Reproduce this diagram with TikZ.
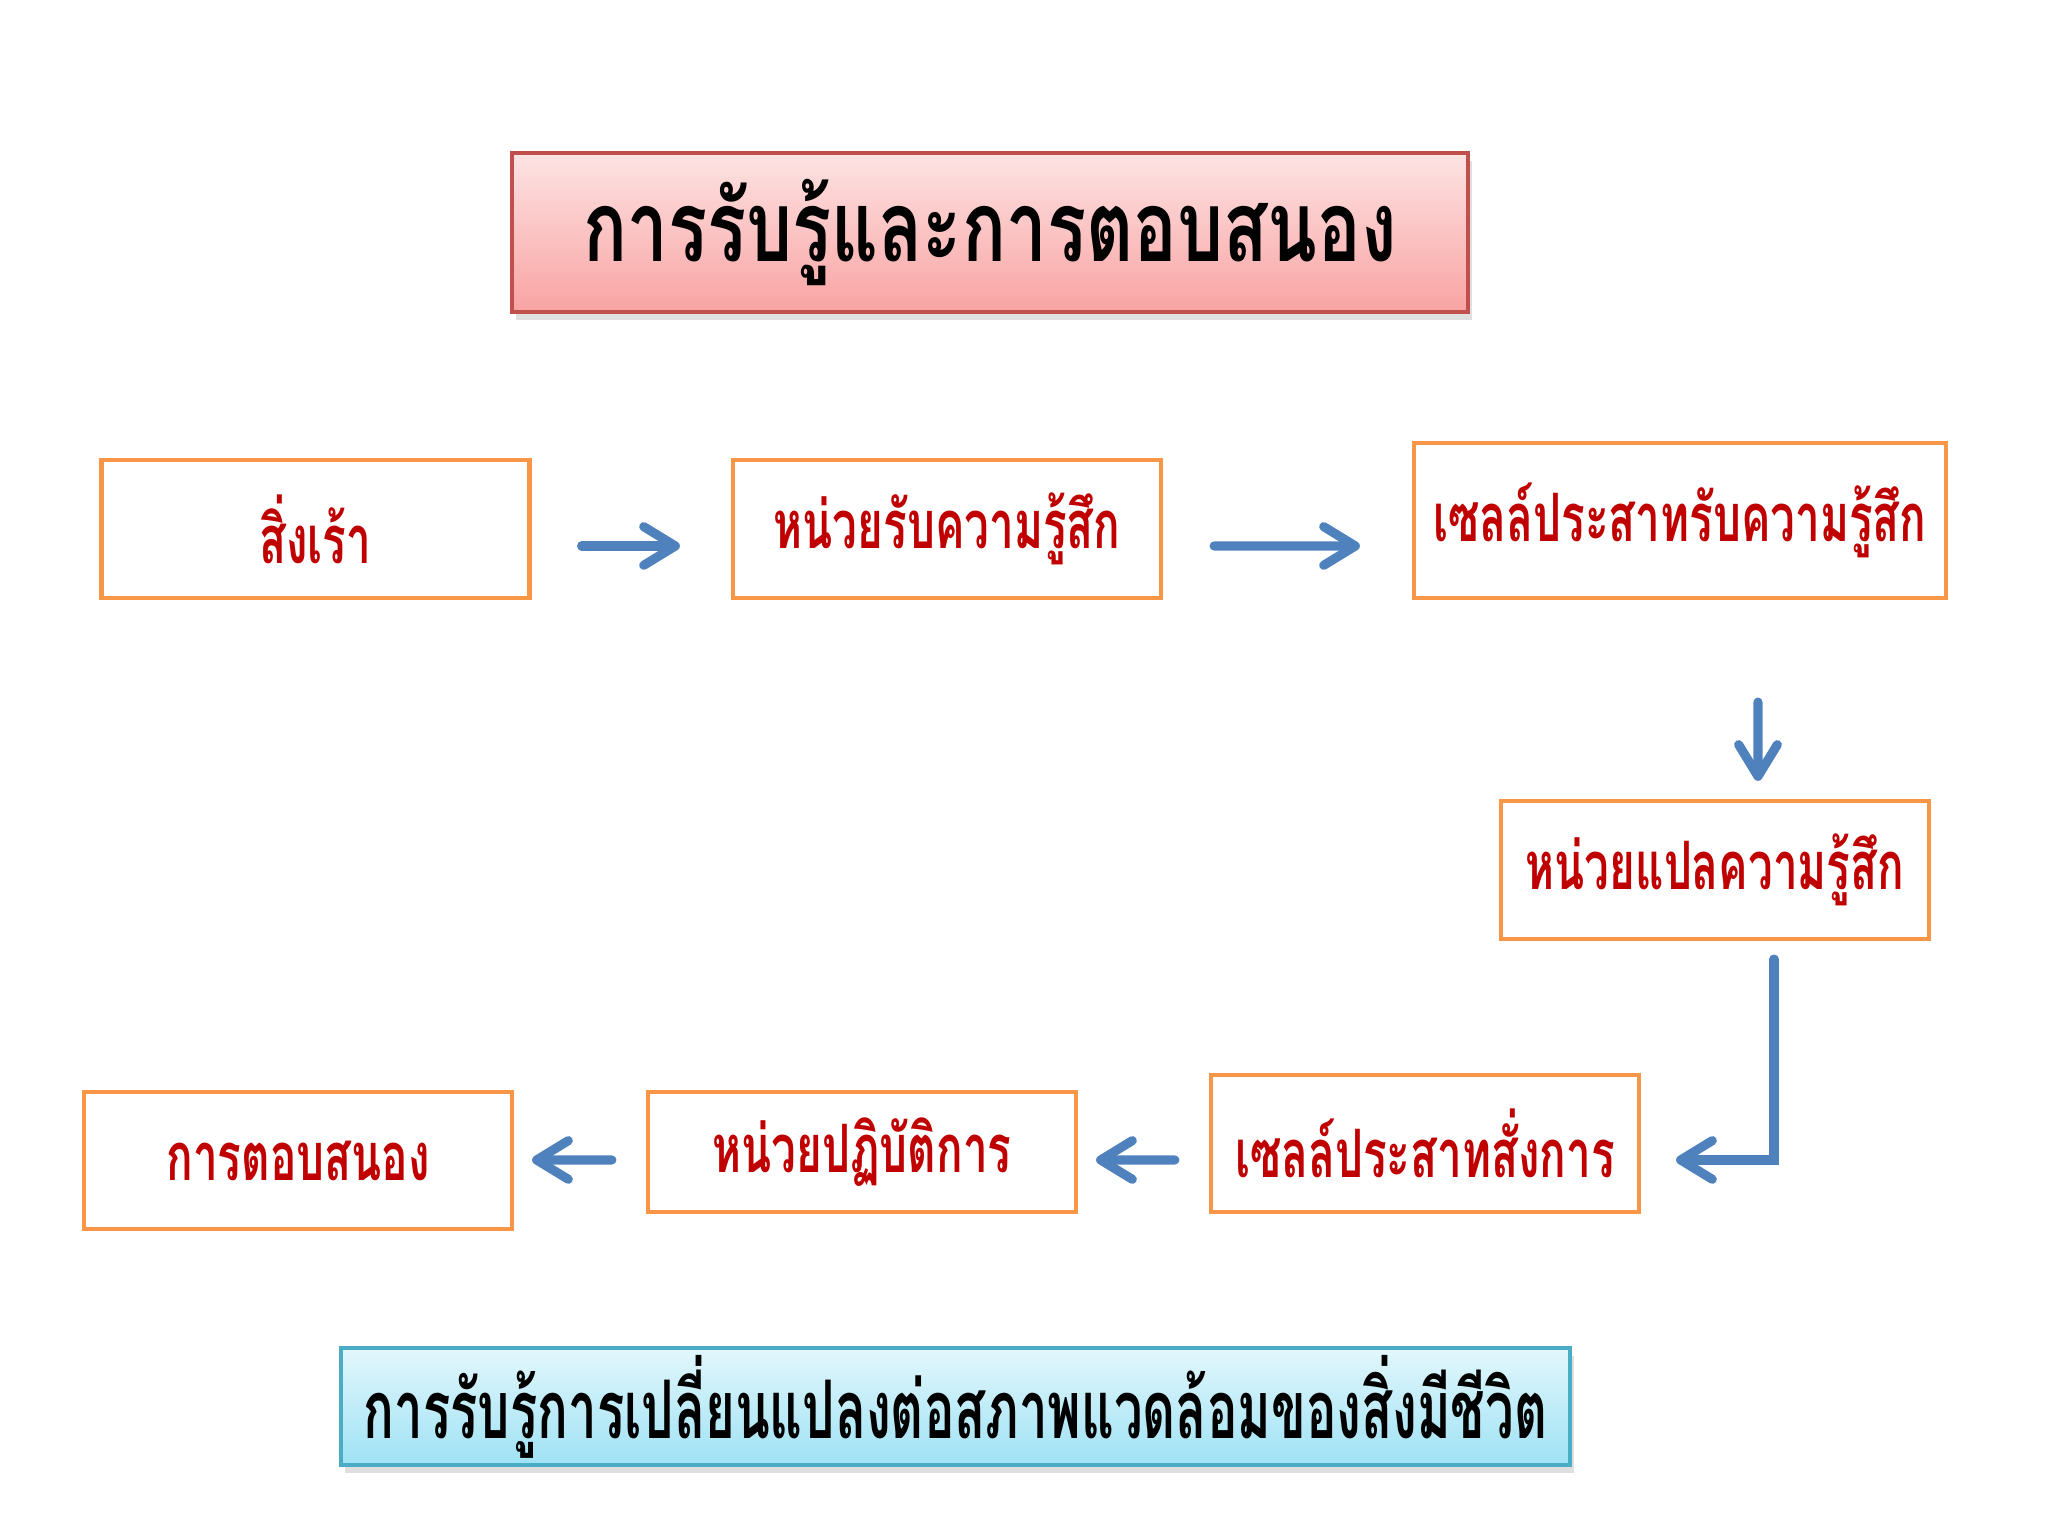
\documentclass[tikz,border=0pt]{standalone}
\usepackage{fontspec}
\usepackage{tikz}
\usetikzlibrary{arrows.meta,positioning,calc,shadows}
\newfontfamily\thaibox[Script=Thai, FakeStretch=0.66]{Loma}
\newfontfamily\thaititle[Script=Thai, FakeStretch=0.74]{Loma}
\newfontfamily\thainote[Script=Thai, FakeStretch=0.63]{Loma}
\definecolor{BoxOrange}{HTML}{F79646}
\definecolor{TextRed}{HTML}{C00000}
\definecolor{ArrowBlue}{HTML}{4F81BD}
\definecolor{TitleEdge}{HTML}{C0504D}
\definecolor{TitleTop}{HTML}{FDE3E3}
\definecolor{TitleBot}{HTML}{F9A3A3}
\definecolor{NoteEdge}{HTML}{4BACC6}
\definecolor{NoteTop}{HTML}{E2F7FC}
\definecolor{NoteBot}{HTML}{9FE2F4}
\tikzset{
  stepbox/.style={draw=BoxOrange, line width=1.2pt, minimum width=4.28cm,
    minimum height=1.38cm, inner sep=0pt, text=TextRed,
    font=\thaibox\bfseries\fontsize{19}{22}\selectfont},
  flowarr/.style={-{Straight Barb[length=9pt,width=11pt,round]},
    line width=2.6pt, color=ArrowBlue, line cap=round},
}

\begin{document}
\begin{tikzpicture}[
  headbox/.style={draw=#1, line width=1pt, inner sep=0pt,
    drop shadow={shadow xshift=0.04cm, shadow yshift=-0.08cm, opacity=0.25}},
]
  \useasboundingbox (0,0) rectangle (20.48,15.36);
  % title and note
  \node[headbox=TitleEdge, top color=TitleTop, bottom color=TitleBot,
    minimum width=9.56cm, minimum height=1.59cm,
    font=\thaititle\bfseries\fontsize{28}{32}\selectfont] (title) at (9.90,13.035)
    {การรับรู้และการตอบสนอง};
  \node[headbox=NoteEdge, top color=NoteTop, bottom color=NoteBot,
    minimum width=12.29cm, minimum height=1.17cm,
    font=\thainote\bfseries\fontsize{23}{26}\selectfont] (note) at (9.555,1.295)
    {การรับรู้การเปลี่ยนแปลงต่อสภาพแวดล้อมของสิ่งมีชีวิต};
  % steps
  \node[stepbox] (s1) at (3.155,10.07) {สิ่งเร้า};
  \node[stepbox] (s2) at (9.47,10.07) {หน่วยรับความรู้สึก};
  \node[stepbox, minimum width=5.32cm, minimum height=1.55cm] (s3) at (16.80,10.155) {เซลล์ประสาทรับความรู้สึก};
  \node[stepbox] (s4) at (17.15,6.66) {หน่วยแปลความรู้สึก};
  \node[stepbox, minimum height=1.37cm] (s5) at (14.25,3.925) {เซลล์ประสาทสั่งการ};
  \node[stepbox, minimum height=1.20cm] (s6) at (8.62,3.84) {หน่วยปฏิบัติการ};
  \node[stepbox, minimum height=1.37cm] (s7) at (2.98,3.755) {การตอบสนอง};
  % arrows
  \draw[flowarr, shorten <=0.5cm, shorten >=0.51cm]
    ($(s1.east)+(0,-0.17)$) -- ($(s2.west)+(0,-0.17)$);
  \draw[flowarr, shorten <=0.51cm, shorten >=0.52cm]
    ($(s2.east)+(0,-0.17)$) -- ($(s3.west)+(0,-0.255)$);
  \draw[flowarr, shorten <=1.02cm, shorten >=0.18cm]
    ($(s3.south)+(0.78,0)$) -- ($(s4.north)+(0.43,0)$);
  \draw[flowarr, shorten <=0.18cm, shorten >=0.35cm, line join=miter]
    ($(s4.south)+(0.59,0)$) |- ($(s5.east)+(0,-0.165)$);
  \draw[flowarr, shorten <=0.34cm, shorten >=0.18cm]
    ($(s5.west)+(0,-0.165)$) -- ($(s6.east)+(0,-0.08)$);
  \draw[flowarr, shorten <=0.34cm, shorten >=0.18cm]
    ($(s6.west)+(0,-0.08)$) -- ($(s7.east)+(0,0.005)$);
\end{tikzpicture}
\end{document}
